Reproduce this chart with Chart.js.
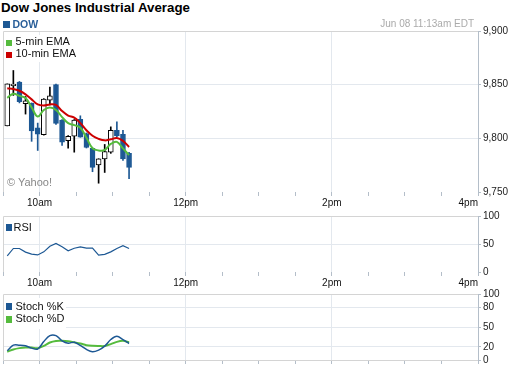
<!DOCTYPE html>
<html>
<head>
<meta charset="utf-8">
<title>Dow Jones Industrial Average</title>
<script src="https://cdn.jsdelivr.net/npm/chart.js@4.4.1/dist/chart.umd.min.js"></script>
<style>
  html, body { margin: 0; padding: 0; background: #fff; overflow: hidden; }
  #wrap { position: relative; width: 512px; height: 365px; overflow: hidden; font-family: "Liberation Sans", Arial, sans-serif; }
  #wrap canvas { position: absolute; left: 0; }
  .txt { position: absolute; white-space: nowrap; line-height: 1; color: #111; }
  .box { position: absolute; background: #fff; }
  .sw { position: absolute; width: 6px; height: 6px; }
</style>
</head>
<body>
<div id="wrap">
  <canvas id="mainChart" width="512" height="192" style="top:20px"></canvas>
  <canvas id="rsiChart" width="512" height="84" style="top:206px"></canvas>
  <canvas id="stochChart" width="512" height="84" style="top:286px"></canvas>

  <div class="txt" style="left:1px; top:1.3px; font-size:13.3px; font-weight:bold; color:#000">Dow Jones Industrial Average</div>
  <div class="sw" style="left:3px; top:21px; width:7px; height:7px; background:#1d5894"></div>
  <div class="txt" style="left:12.5px; top:19px; font-size:10.5px; font-weight:bold; color:#2a5f99">DOW</div>
  <div class="txt" style="right:38px; top:19px; font-size:10px; color:#aaa">Jun 08 11:13am EDT</div>

  <div class="box" style="left:4px; top:35px; width:76px; height:27px"></div>
  <div class="sw" style="left:6px; top:39.5px; background:#55bb3d"></div>
  <div class="txt" style="left:15.5px; top:36.4px; font-size:11px">5-min EMA</div>
  <div class="sw" style="left:6px; top:51.5px; background:#cc0000"></div>
  <div class="txt" style="left:15.5px; top:48.2px; font-size:11px">10-min EMA</div>
  <div class="txt" style="left:7px; top:177px; font-size:11px; color:#888">© Yahoo!</div>

  <div class="box" style="left:4px; top:220px; width:34px; height:15px"></div>
  <div class="sw" style="left:6px; top:224px; height:7px; background:#1d5894"></div>
  <div class="txt" style="left:13.5px; top:222.2px; font-size:11px">RSI</div>

  <div class="box" style="left:4px; top:298px; width:62px; height:31px"></div>
  <div class="sw" style="left:6px; top:303px; height:7px; background:#1d5894"></div>
  <div class="txt" style="left:15.5px; top:300.7px; font-size:11px">Stoch %K</div>
  <div class="sw" style="left:6px; top:316px; height:7px; background:#55bb3d"></div>
  <div class="txt" style="left:15.5px; top:313.4px; font-size:11px">Stoch %D</div>
</div>

<script>
// minutes after 9:30am
const halfHourTicks = [0, 30, 60, 90, 120, 150, 180, 210, 240, 270, 300, 330, 360, 390];
const hourTicks = [30, 150, 270, 390];
const hourLabels = ['10am', '12pm', '2pm', '4pm'];

// 5-minute candles
const candleTimes = [3.5, 8.5, 13.5, 18.5, 23.5, 28.5, 33.5, 38.5, 43.5, 48.5, 53.5, 58.5, 63.5, 68.5, 73.5, 78.5, 83.5, 88.5, 93.5, 98.5, 103.5];
const opens  = [9811.6, 9849.1, 9852.5, 9832.4, 9832.7, 9809.7, 9803.5, 9835.6, 9850.0, 9817.0, 9797.8, 9801.9, 9817.6, 9804.4, 9790.8, 9775.2, 9780.8, 9787.1, 9807.5, 9803.8, 9786.1];
const highs  = [9850.7, 9863.2, 9853.0, 9839.0, 9833.0, 9814.2, 9837.0, 9847.8, 9850.5, 9817.5, 9802.5, 9817.5, 9821.0, 9805.0, 9791.0, 9781.0, 9794.3, 9810.7, 9815.4, 9807.5, 9787.0];
const lows   = [9811.6, 9840.0, 9833.0, 9822.6, 9797.2, 9788.7, 9803.0, 9831.1, 9813.0, 9793.4, 9790.9, 9787.1, 9801.0, 9791.0, 9768.9, 9758.2, 9768.2, 9786.0, 9801.5, 9779.5, 9762.5];
const closes = [9850.7, 9850.5, 9834.2, 9834.9, 9806.9, 9803.8, 9836.5, 9839.6, 9813.9, 9796.5, 9801.9, 9817.0, 9801.2, 9791.5, 9772.9, 9780.8, 9787.7, 9807.5, 9802.2, 9780.8, 9772.9];

const ema5  = [9837.7, 9841.5, 9839.6, 9837.5, 9828.8, 9820.3, 9826.4, 9828.8, 9826.4, 9819.8, 9814.2, 9812.3, 9809.9, 9800.5, 9790.8, 9788.7, 9789.2, 9794.8, 9796.7, 9790.6, 9784.4];
const ema10 = [9846.7, 9845.9, 9844.3, 9841.0, 9836.3, 9831.6, 9830.7, 9831.6, 9831.1, 9825.5, 9821.2, 9819.3, 9814.2, 9807.5, 9802.4, 9799.5, 9798.1, 9799.1, 9800.3, 9797.6, 9792.0];

const rsi    = [29, 42, 42, 35.5, 32, 30.5, 36, 46, 51, 45, 38, 42.5, 45, 42.5, 42.5, 30, 31.5, 36, 42, 47, 42];
const stochK = [14, 22.5, 22.5, 21.5, 18, 16.5, 28, 37, 37, 29, 25.5, 27, 22, 16, 12.5, 15, 21, 31, 36, 31, 25];
const stochD = [12.5, 16, 18, 19, 18.8, 18, 21.5, 26.5, 28.8, 29, 28.5, 26.8, 25, 22.5, 21.5, 21.2, 21.2, 24, 27.5, 29, 26.8];

const priceTicks = [9750, 9800, 9850, 9900];
const priceGrid = [9800, 9850];
const rsiTicks = [0, 20, 50, 80, 100];
const rsiLabels = [0, 50, 100];
const rsiGrid = [20, 50, 80];
const stochTicks = [0, 20, 50, 80, 100];
const stochGrid = [20, 50, 80];

const BLUE = '#1d5894';
const GREEN = '#55bb3d';
const RED = '#cc0000';
const GRID = '#e3e8ee';
const FRAME = '#d4d4d4';
const AXIS = '#b4bec9';
const NONE = 'rgba(0,0,0,0)';

Chart.defaults.font.family = '"Liberation Sans", Arial, sans-serif';

// top and left edge of each plot
const frameLines = {
    id: 'frameLines',
    beforeDatasetsDraw(chart) {
        const a = chart.chartArea;
        const ctx = chart.ctx;
        ctx.save();
        ctx.strokeStyle = FRAME;
        ctx.lineWidth = 1;
        ctx.beginPath();
        ctx.moveTo(a.left + 0.5, a.bottom);
        ctx.lineTo(a.left + 0.5, a.top + 0.5);
        ctx.lineTo(a.right, a.top + 0.5);
        ctx.stroke();
        ctx.restore();
    }
};

function timeAxis(showLabels, axisHeight, showBorder) {
    return {
        type: 'linear',
        min: 0,
        max: 390,
        offset: false,
        afterBuildTicks: s => { s.ticks = halfHourTicks.map(v => ({ value: v })); },
        afterFit: s => { s.height = axisHeight; },
        ticks: {
            autoSkip: false,
            maxRotation: 0,
            align: 'inner',
            padding: 1,
            color: '#111',
            font: { size: 10 },
            callback: v => {
                const i = hourTicks.indexOf(v);
                return showLabels && i >= 0 ? hourLabels[i] : '';
            }
        },
        grid: {
            offset: false,
            color: c => c.tick && hourTicks.includes(c.tick.value) && c.tick.value < 390 ? GRID : NONE,
            tickLength: 4,
            tickColor: AXIS
        },
        border: { display: showBorder, color: FRAME }
    };
}

function valueAxis(min, max, tickVals, labelVals, gridVals, fmt) {
    return {
        position: 'right',
        min: min,
        max: max,
        afterBuildTicks: s => { s.ticks = tickVals.map(v => ({ value: v })); },
        afterFit: s => { s.width = 34; },
        ticks: {
            padding: 2,
            color: '#222',
            font: { size: 10 },
            callback: v => labelVals.includes(v) ? fmt(v) : ''
        },
        grid: {
            color: c => c.tick && gridVals.includes(c.tick.value) ? GRID : NONE,
            tickLength: 3,
            tickColor: c => c.tick && labelVals.includes(c.tick.value) ? AXIS : NONE
        },
        border: { display: true, color: AXIS }
    };
}

function baseOptions(padTop, xAxis, yAxis) {
    return {
        responsive: false,
        animation: false,
        events: [],
        layout: { padding: { left: 3, top: padTop, right: 0, bottom: 0 } },
        plugins: { legend: { display: false }, tooltip: { enabled: false } },
        scales: { x: xAxis, y: yAxis }
    };
}

const points = vals => candleTimes.map((t, i) => ({ x: t, y: vals[i] }));
const isUp = closes.map((c, i) => c >= opens[i]);

new Chart(document.getElementById('mainChart'), {
    type: 'bar',
    data: {
        datasets: [
            {
                type: 'line', label: '10-min EMA', data: points(ema10),
                borderColor: RED, borderWidth: 2, pointRadius: 0, tension: 0.4, order: 0
            },
            {
                type: 'line', label: '5-min EMA', data: points(ema5),
                borderColor: GREEN, borderWidth: 2, pointRadius: 0, tension: 0.4, order: 1
            },
            {
                label: 'body',
                data: candleTimes.map((t, i) => ({ x: t, y: [opens[i], closes[i]] })),
                backgroundColor: isUp.map(u => u ? '#fff' : BLUE),
                borderColor: isUp.map(u => u ? '#000' : BLUE),
                borderWidth: 1, borderSkipped: false,
                barThickness: 5, grouped: false, order: 2
            },
            {
                label: 'wick',
                data: candleTimes.map((t, i) => ({ x: t, y: [lows[i], highs[i]] })),
                backgroundColor: isUp.map(u => u ? '#000' : BLUE),
                barThickness: 1, grouped: false, order: 3
            }
        ]
    },
    options: baseOptions(11, timeAxis(true, 20, false),
        valueAxis(9750, 9900, priceTicks, priceTicks, priceGrid, v => v.toLocaleString('en-US'))),
    plugins: [frameLines]
});

new Chart(document.getElementById('rsiChart'), {
    type: 'line',
    data: {
        datasets: [{
            label: 'RSI', data: points(rsi),
            borderColor: BLUE, borderWidth: 1.2, pointRadius: 0, tension: 0
        }]
    },
    options: baseOptions(10, timeAxis(true, 18, false),
        valueAxis(0, 100, rsiTicks, rsiLabels, rsiGrid, v => String(v))),
    plugins: [frameLines]
});

new Chart(document.getElementById('stochChart'), {
    type: 'line',
    data: {
        datasets: [
            {
                label: 'Stoch %K', data: points(stochK),
                borderColor: BLUE, borderWidth: 1.5, pointRadius: 0, tension: 0.35
            },
            {
                label: 'Stoch %D', data: points(stochD),
                borderColor: GREEN, borderWidth: 2, pointRadius: 0, tension: 0.35
            }
        ]
    },
    options: baseOptions(8, timeAxis(false, 10, true),
        valueAxis(0, 100, stochTicks, stochTicks, stochGrid, v => String(v))),
    plugins: [frameLines]
});
</script>
</body>
</html>
